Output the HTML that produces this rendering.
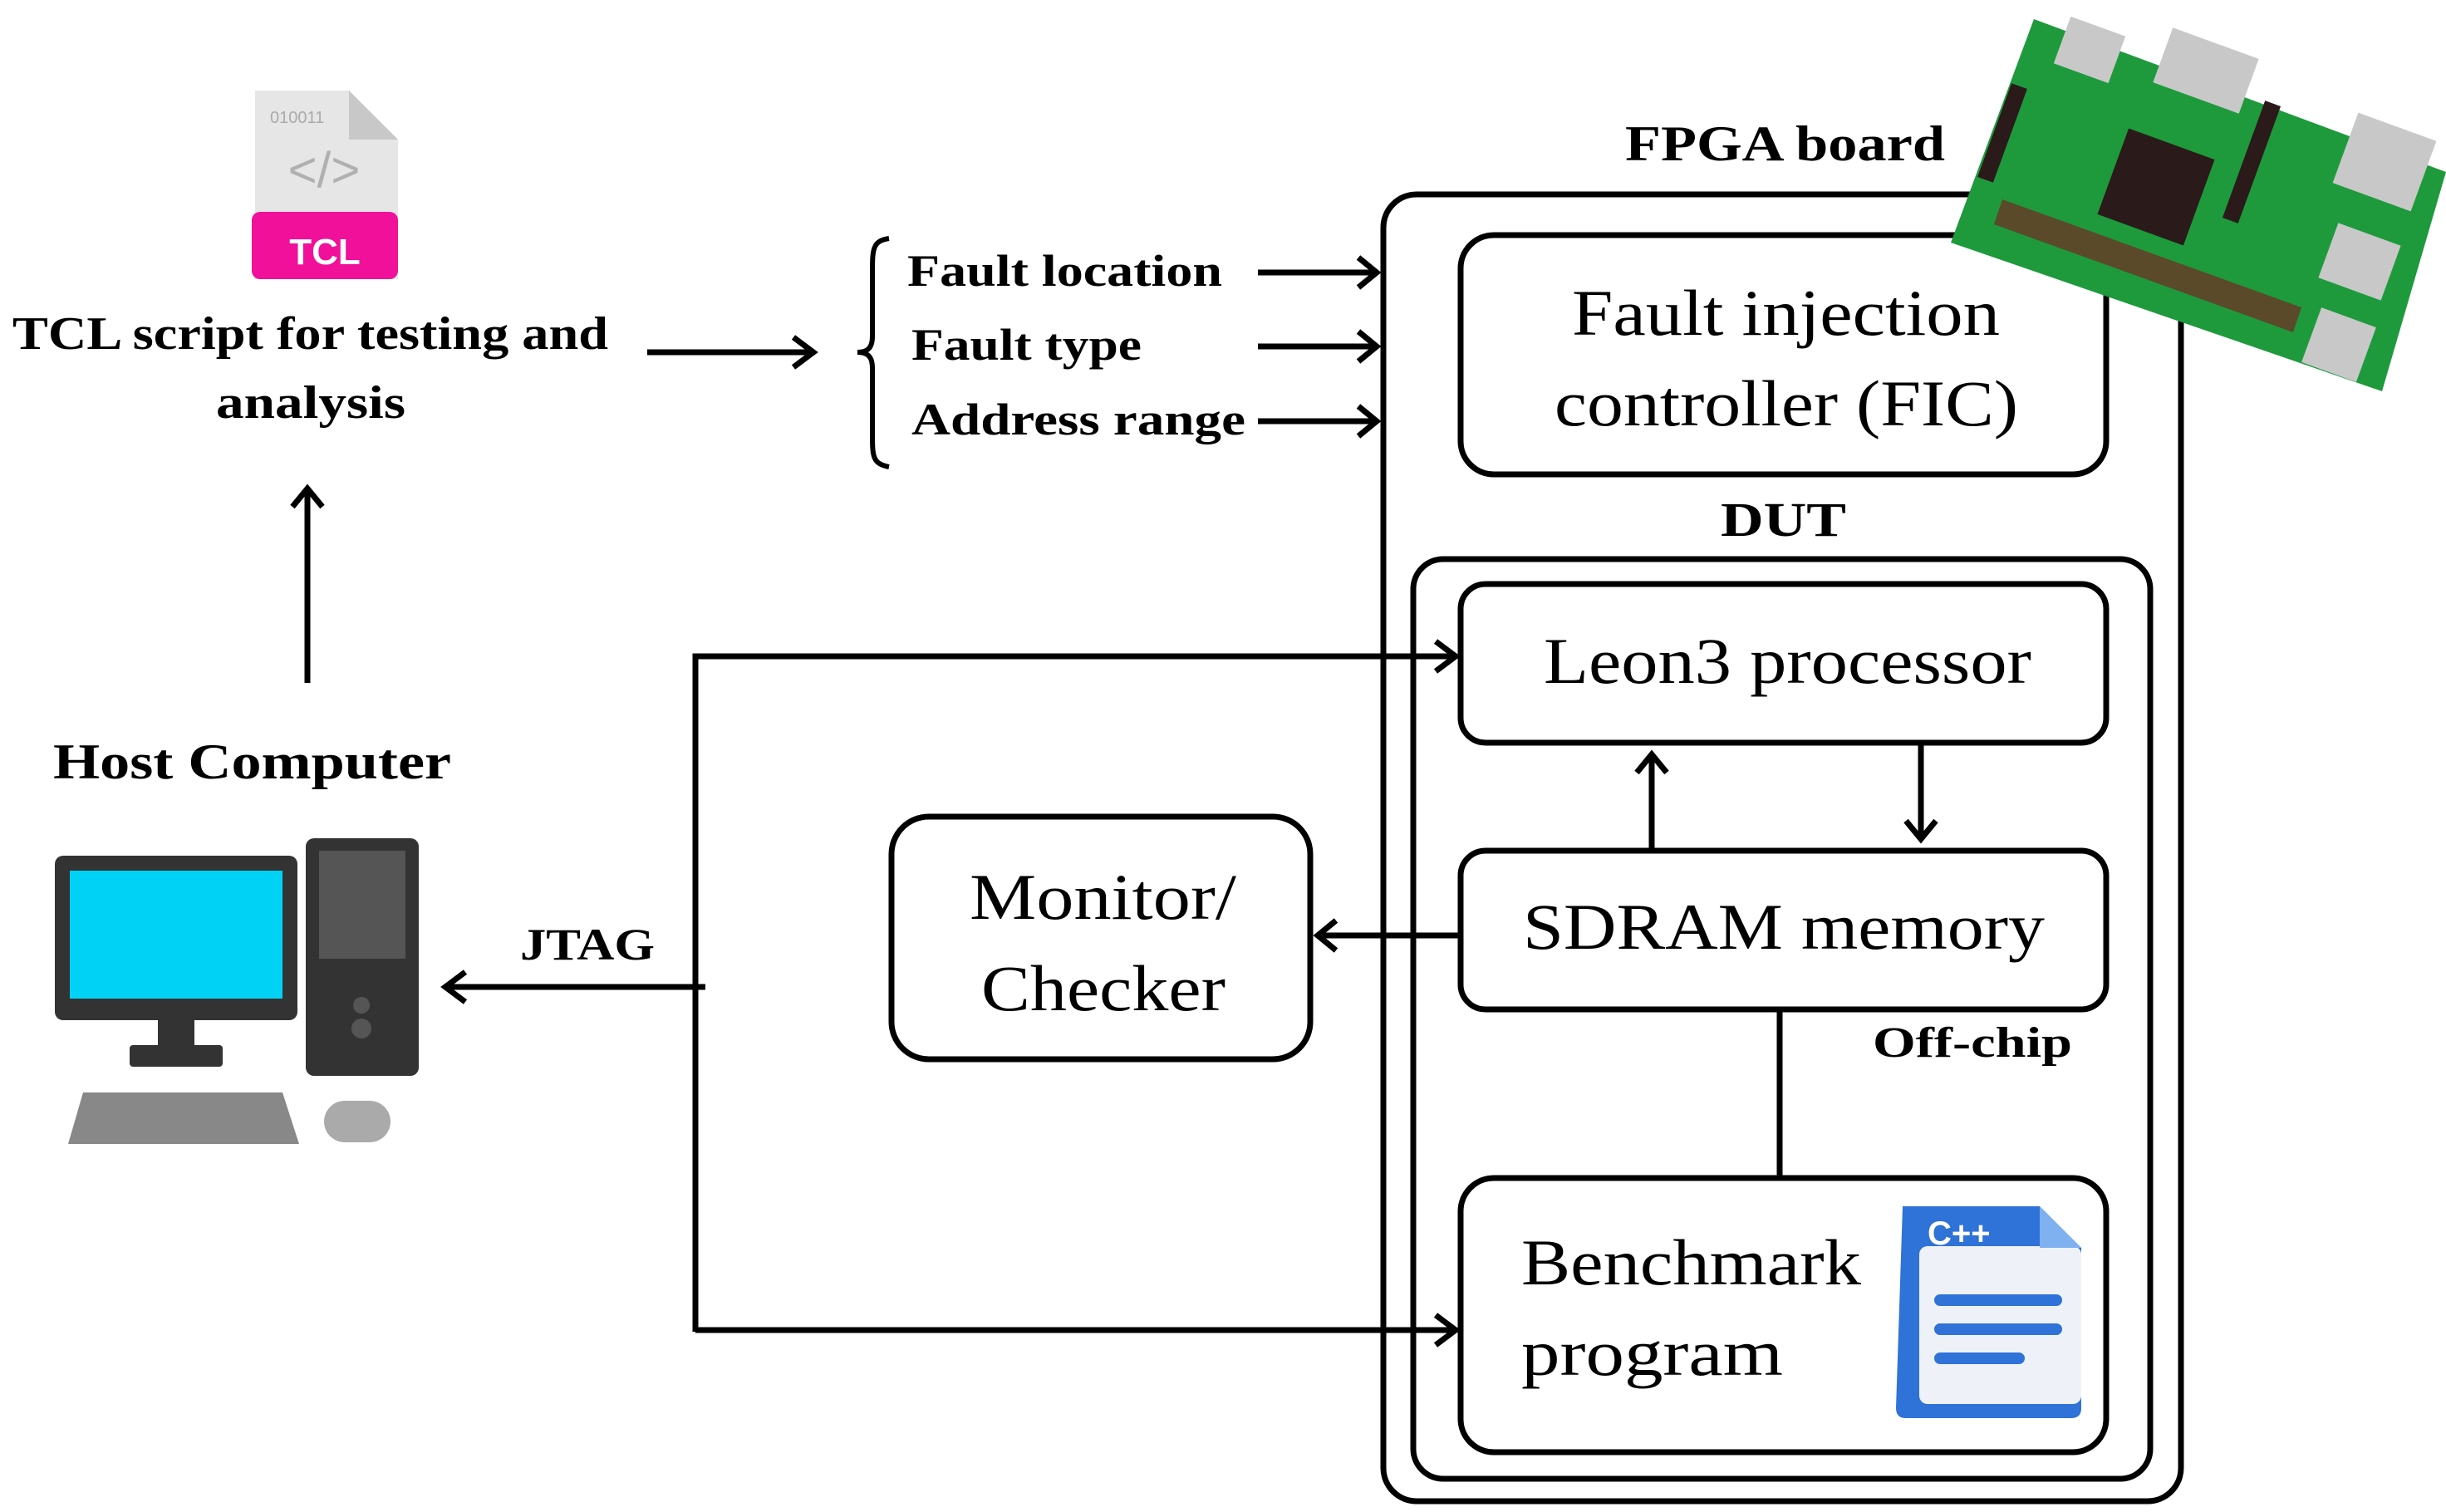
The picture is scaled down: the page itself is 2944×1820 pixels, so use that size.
<!DOCTYPE html>
<html><head><meta charset="utf-8"><style>
html,body{margin:0;padding:0;background:#fff}
svg{display:block}
text{font-family:"Liberation Serif",serif;fill:#000}
.b{font-weight:bold}
</style></head><body>
<svg width="2944" height="1820" viewBox="0 0 2944 1820" xmlns="http://www.w3.org/2000/svg">
<g fill="none" stroke="#000" stroke-width="7">
<rect x="1665" y="234" width="960" height="1573" rx="40"/>
<rect x="1701" y="673" width="887" height="1107" rx="36"/>
<rect x="1758" y="283" width="777" height="288" rx="40"/>
<rect x="1758" y="703" width="777" height="191" rx="30"/>
<rect x="1758" y="1024" width="777" height="191" rx="30"/>
<rect x="1758" y="1418" width="777" height="330" rx="40"/>
<rect x="1073" y="983" width="504" height="292" rx="45"/>
<path d="M370 822 V592"/>
<path d="M779 424 H975"/>
<path d="M1514 328 H1653 M1514 417 H1653 M1514 507 H1653"/>
<path d="M837 1603 V790 H1746"/>
<path d="M837 1601 H1746"/>
<path d="M849 1188 H540"/>
<path d="M1758 1126 H1590"/>
<path d="M1988 1024 V912"/>
<path d="M2312 894 V1006"/>
<path d="M2142 1215 V1418"/>
<path d="M1070 287 C1050 290 1050 300 1050 330 V405 C1050 418 1045 424 1032 424 C1045 424 1050 430 1050 443 V520 C1050 550 1050 558 1070 562" stroke-width="6"/>
<g stroke-width="7" stroke-linejoin="miter">
<path d="M352 610 L370 588 L388 610"/>
<path d="M955 406 L979 424 L955 442"/>
<path d="M1635 310 L1657 328 L1635 346 M1635 399 L1657 417 L1635 435 M1635 489 L1657 507 L1635 525"/>
<path d="M1728 772 L1752 790 L1728 808"/>
<path d="M1728 1583 L1752 1601 L1728 1619"/>
<path d="M560 1170 L536 1188 L560 1206"/>
<path d="M1608 1108 L1586 1126 L1608 1144"/>
<path d="M1970 930 L1988 908 L2006 930"/>
<path d="M2294 988 L2312 1010 L2330 988"/>
</g>
</g>
<text x="1956" y="193" class="b" font-size="60" textLength="385" lengthAdjust="spacingAndGlyphs">FPGA board</text>
<text x="1892" y="403" font-size="78" textLength="515" lengthAdjust="spacingAndGlyphs">Fault injection</text>
<text x="1871" y="512" font-size="78" textLength="558" lengthAdjust="spacingAndGlyphs">controller (FIC)</text>
<text x="2071" y="645" class="b" font-size="58" textLength="151" lengthAdjust="spacingAndGlyphs">DUT</text>
<text x="1858" y="822" font-size="78" textLength="587" lengthAdjust="spacingAndGlyphs">Leon3 processor</text>
<text x="1833" y="1142" font-size="78" textLength="628" lengthAdjust="spacingAndGlyphs">SDRAM memory</text>
<text x="2254" y="1272" class="b" font-size="52" textLength="240" lengthAdjust="spacingAndGlyphs">Off-chip</text>
<text x="1831" y="1546" font-size="78" textLength="409" lengthAdjust="spacingAndGlyphs">Benchmark</text>
<text x="1831" y="1655" font-size="78" textLength="315" lengthAdjust="spacingAndGlyphs">program</text>
<text x="1167" y="1106" font-size="78" textLength="321" lengthAdjust="spacingAndGlyphs">Monitor/</text>
<text x="1181" y="1216" font-size="78" textLength="294" lengthAdjust="spacingAndGlyphs">Checker</text>
<text x="626" y="1155" class="b" font-size="54" textLength="162" lengthAdjust="spacingAndGlyphs">JTAG</text>
<text x="64" y="937" class="b" font-size="60" textLength="479" lengthAdjust="spacingAndGlyphs">Host Computer</text>
<text x="15" y="420" class="b" font-size="56" textLength="717" lengthAdjust="spacingAndGlyphs">TCL script for testing and</text>
<text x="260" y="503" class="b" font-size="56" textLength="228" lengthAdjust="spacingAndGlyphs">analysis</text>
<text x="1092" y="344" class="b" font-size="54" textLength="379" lengthAdjust="spacingAndGlyphs">Fault location</text>
<text x="1097" y="433" class="b" font-size="54" textLength="277" lengthAdjust="spacingAndGlyphs">Fault type</text>
<text x="1097" y="523" class="b" font-size="54" textLength="402" lengthAdjust="spacingAndGlyphs">Address range</text>
<path d="M307 109 H420 L479 168 V336 H307 Z" fill="#e6e6e6"/>
<path d="M420 109 V168 H479 Z" fill="#c8c8c8"/>
<text x="325" y="148" font-size="20" style="fill:#aaa;font-family:'Liberation Sans',sans-serif">010011</text>
<text x="390" y="225" font-size="60" text-anchor="middle" style="fill:#b0b0b0;font-family:'Liberation Sans',sans-serif">&lt;/&gt;</text>
<rect x="303" y="255" width="176" height="81" rx="10" fill="#f0109a"/>
<text x="391" y="318" font-size="44" text-anchor="middle" style="fill:#fff;font-weight:bold;font-family:'Liberation Sans',sans-serif">TCL</text>
<rect x="66" y="1030" width="292" height="198" rx="10" fill="#333"/>
<rect x="84" y="1048" width="256" height="154" fill="#00d2f5"/>
<rect x="190" y="1228" width="44" height="32" fill="#333"/>
<rect x="156" y="1258" width="112" height="26" rx="4" fill="#333"/>
<rect x="368" y="1009" width="136" height="286" rx="10" fill="#333"/>
<rect x="384" y="1024" width="104" height="130" fill="#555"/>
<circle cx="435" cy="1210" r="10" fill="#555"/><circle cx="435" cy="1238" r="12" fill="#555"/>
<path d="M100 1315 H340 L360 1377 H82 Z" fill="#888"/>
<rect x="390" y="1325" width="80" height="50" rx="25" fill="#aaa"/>
<path d="M2290 1452 H2455 L2505 1502 V1695 Q2505 1707 2493 1707 H2294 Q2282 1707 2282 1695 Z" fill="#2f72d8"/>
<rect x="2310" y="1500" width="195" height="190" rx="10" fill="#eef2f8"/>
<path d="M2455 1452 V1502 H2505 Z" fill="#7fb0f0"/>
<text x="2320" y="1498" font-size="40" style="fill:#fff;font-weight:bold;font-family:'Liberation Sans',sans-serif">C++</text>
<g stroke="#2f72d8" stroke-width="14" stroke-linecap="round">
<path d="M2335 1565 H2475 M2335 1600 H2475 M2335 1635 H2430"/>
</g>
<polygon points="2448,23 2944,207 2867,471 2348,292" fill="#1e9a3c"/>
<polygon points="2400,270 2760,400 2770,370 2410,240" fill="#5a4a2a"/>
<rect x="2540" y="170" width="110" height="110" fill="#2a1a1a" transform="rotate(20 2595 225)"/>
<rect x="2600" y="50" width="110" height="70" fill="#c8c8c8" transform="rotate(20 2655 85)"/>
<rect x="2480" y="30" width="70" height="60" fill="#c8c8c8" transform="rotate(20 2515 60)"/>
<rect x="2820" y="150" width="100" height="90" fill="#c8c8c8" transform="rotate(20 2870 195)"/>
<rect x="2800" y="280" width="80" height="70" fill="#c8c8c8" transform="rotate(20 2840 315)"/>
<rect x="2780" y="380" width="70" height="70" fill="#c8c8c8" transform="rotate(20 2815 415)"/>
<rect x="2400" y="100" width="20" height="120" fill="#2a1a1a" transform="rotate(20 2410 160)"/>
<rect x="2700" y="120" width="20" height="150" fill="#2a1a1a" transform="rotate(20 2710 195)"/>
</svg>
</body></html>
